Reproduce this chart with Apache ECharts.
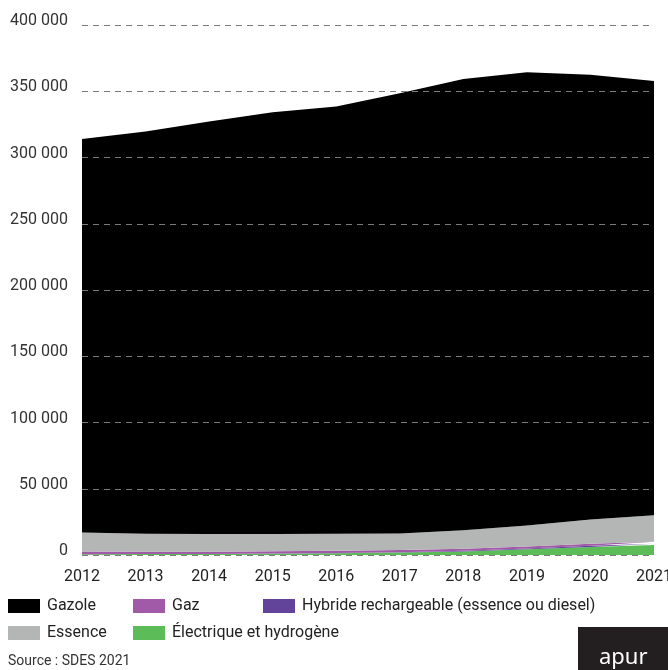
<!DOCTYPE html>
<html>
<head>
<meta charset="utf-8">
<script src="https://cdn.jsdelivr.net/npm/echarts@6/dist/echarts.min.js"></script>
<style>
html,body{margin:0;padding:0;background:#fff;}
#chart{width:668px;height:670px;}
</style>
</head>
<body>
<div id="chart"></div>
<script>
const years = ['2012','2013','2014','2015','2016','2017','2018','2019','2020','2021'];
const electrique = [600, 700, 800, 1000, 1300, 1800, 2700, 4300, 6000, 7500];
const hybride = [0, 0, 0, 100, 200, 300, 500, 700, 900, 1000];
const gaz = [2000, 1800, 1700, 1800, 1700, 1700, 1600, 1500, 1500, 1500];
const essence = [14400, 13500, 13300, 12900, 12800, 12400, 13900, 15700, 18400, 20000];
const gazole = [296900, 303600, 311300, 318400, 322400, 332300, 340600, 342100, 335700, 327800];

const names = {
  gazole: 'Gazole',
  gaz: 'Gaz',
  hybride: 'Hybride rechargeable (essence ou diesel)',
  essence: 'Essence',
  electrique: 'Électrique et hydrogène'
};
const colors = {
  gazole: '#000000',
  gaz: '#a15aa8',
  hybride: '#62449b',
  essence: '#b4b6b6',
  electrique: '#5cbd58'
};

const chart = echarts.init(document.getElementById('chart'));
const font = 'Roboto, sans-serif';

function areaSeries(key, data) {
  return {
    name: names[key],
    type: 'line',
    stack: 'total',
    data: data,
    symbol: 'none',
    lineStyle: { width: 0 },
    areaStyle: { color: colors[key], opacity: 1 },
    itemStyle: { color: colors[key] },
    emphasis: { disabled: true }
  };
}

function legendItem(key, left, top) {
  return {
    data: [names[key]],
    left: left,
    top: top,
    itemWidth: 32,
    itemHeight: 14,
    icon: 'rect',
    padding: 0,
    textStyle: { fontFamily: font, fontSize: 16, color: '#222', padding: [0, 0, 0, 2] }
  };
}

chart.setOption({
  animation: false,
  grid: { left: 82, right: 14, top: 25, bottom: 115, outerBoundsMode: 'none', containLabel: false },
  legend: [
    legendItem('gazole', 8, 598),
    legendItem('gaz', 133, 598),
    legendItem('hybride', 263, 598),
    legendItem('essence', 8, 625),
    legendItem('electrique', 133, 625)
  ],
  xAxis: {
    type: 'category',
    data: years,
    boundaryGap: false,
    axisLine: { show: false },
    axisTick: { show: false },
    axisLabel: { fontFamily: font, fontSize: 16, color: '#222', margin: 14 }
  },
  yAxis: {
    type: 'value',
    min: 0,
    max: 400000,
    interval: 50000,
    z: 5,
    axisLine: { show: false },
    axisTick: { show: false },
    splitLine: { lineStyle: { color: '#7a7a7a', type: [6, 5], width: 1 } },
    axisLabel: {
      fontFamily: font, fontSize: 16, color: '#333', margin: 14,
      verticalAlign: 'bottom',
      lineHeight: 8,
      formatter: v => v === 0 ? '0' : String(v).replace(/\B(?=(\d{3})+(?!\d))/g, ' ')
    }
  },
  series: [
    areaSeries('electrique', electrique),
    areaSeries('hybride', hybride),
    areaSeries('gaz', gaz),
    areaSeries('essence', essence),
    areaSeries('gazole', gazole)
  ],
  graphic: [
    {
      type: 'text', left: 8, top: 654,
      style: { text: 'Source : SDES 2021', fontFamily: font, fontSize: 14, fill: '#333' }
    },
    {
      type: 'rect', left: 578, top: 627,
      shape: { width: 90, height: 43 },
      style: { fill: '#231f20' }
    },
    {
      type: 'text', left: 599, top: 647,
      style: { text: 'apur', fontFamily: 'Noto Sans, sans-serif', fontSize: 22, fill: '#fff' }
    }
  ]
});
</script>
</body>
</html>
